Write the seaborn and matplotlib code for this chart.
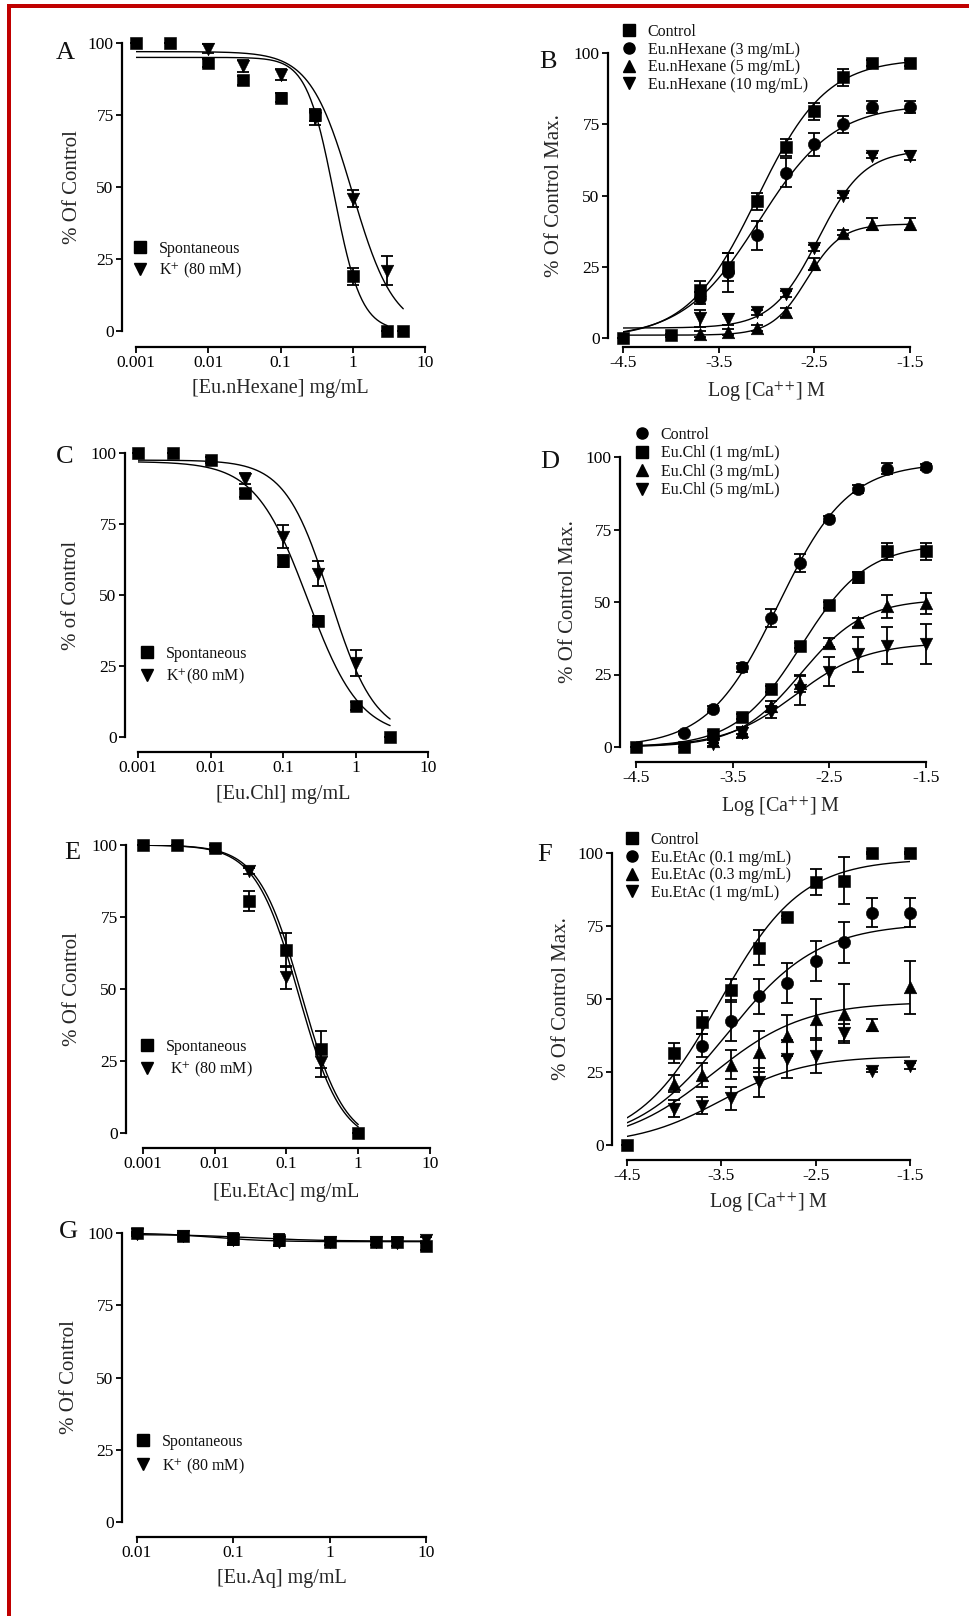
import numpy as np
import matplotlib
matplotlib.use("Agg")
import matplotlib.pyplot as plt
from matplotlib.lines import Line2D
from matplotlib.patches import Rectangle
from matplotlib.ticker import NullLocator
import seaborn as sns

W, H = 970, 1616

# ---------------- data ----------------
# log [Ca++] M doses used in B, D, F
CA_LOG = [-4.5, -4.0, -3.7, -3.4, -3.1, -2.8, -2.5, -2.2, -1.9, -1.5]

# A: Eu.nHexane, % of control
A_conc = [0.001, 0.003, 0.01, 0.03, 0.1, 0.3, 1, 3, 5]
A_spont = [100, 100, 93, 87, 81, 75, 19, 0, 0]
A_spont_err = [0, 0, 1.5, 1.5, 1.5, 2, 3, 0, 0]
A_k_conc = [0.01, 0.03, 0.1, 0.3, 1, 3]
A_k = [98, 92, 89, 74, 46, 21]
A_k_err = [1.5, 2, 2, 2.5, 3, 5]

# B: Ca++ curves with Eu.nHexane
B_ctrl = [0, 1, 17, 25, 48, 67, 79.5, 91.5, 96.5, 96.5]
B_ctrl_err = [0, 0.5, 3, 5, 3, 3, 3, 3, 1, 1]
B_3 = [14, 23, 36, 58, 68, 75, 81, 81]
B_3_err = [2, 7, 5, 5, 4, 3, 2, 2]
B_5 = [1.5, 2, 3.5, 9, 26, 37, 40, 40]
B_5_err = [1, 1, 1, 1.5, 2, 1, 2, 2]
B_10 = [7, 6.5, 9, 15.5, 31.5, 50, 64, 64]
B_10_err = [3, 2, 1, 1, 1, 1, 1, 1.5]

# C: Eu.Chl, % of control
C_conc = [0.001, 0.003, 0.01, 0.03, 0.1, 0.3, 1, 3]
C_spont = [100, 100, 97.5, 86, 62, 41, 11, 0]
C_spont_err = [0, 0, 1, 1.5, 2, 1.5, 1.5, 0]
C_k_conc = [0.03, 0.1, 0.3, 1]
C_k = [91, 70.5, 57.5, 26]
C_k_err = [2, 4, 4.5, 4.5]

# D: Ca++ curves with Eu.Chl
D_ctrl = [5, 13, 27.5, 44.5, 63.5, 78.5, 89, 96, 96.5]
D_ctrl_err = [0.5, 1, 1.5, 3, 3, 1, 1.5, 2, 1]
D_1 = [0, 0, 4.5, 10.5, 20, 35, 49, 58.5, 67.5, 67.5]
D_1_err = [0, 0, 1, 1, 1, 1, 1, 2, 3, 3]
D_3 = [2, 5.5, 14, 22, 36, 43, 48.5, 49.5]
D_3_err = [0.5, 1, 2, 3, 1.5, 1.5, 4, 3.5]
D_5 = [1, 5, 12, 19.5, 26, 32, 35, 35.5]
D_5_err = [0.5, 2, 2, 5, 5, 6, 6.5, 7]

# E: Eu.EtAc, % of control
E_conc = [0.001, 0.003, 0.01, 0.03, 0.1, 0.3, 1]
E_spont = [100, 100, 99, 80.5, 63.5, 29, 0]
E_spont_err = [0, 0, 1, 3.5, 6, 6.5, 0]
E_k_conc = [0.03, 0.1, 0.3]
E_k = [91, 54, 24.5]
E_k_err = [1, 4, 5]

# F: Ca++ curves with Eu.EtAc
F_ctrl = [0, 31.5, 42, 53, 67.5, 78, 90, 90.5, 100, 100]
F_ctrl_err = [0, 3.5, 4, 4, 6, 0.5, 4.5, 8, 0.5, 0.5]
F_01 = [34, 42.5, 51, 55.5, 63, 69.5, 79.5, 79.5]
F_01_err = [4, 7, 6, 7, 7, 7, 5, 5]
F_03 = [21, 24, 27.5, 32, 37.5, 43, 45, 41, 54]
F_03_err = [3, 4, 5, 7, 7, 7, 10, 2, 9]
F_1 = [12.5, 13.5, 16, 21.5, 29.5, 30.5, 38.5, 25.5, 27]
F_1_err = [3, 3, 4, 5, 6.5, 6, 3, 0.5, 1]

# G: Eu.Aq, % of control
G_conc = [0.01, 0.03, 0.1, 0.3, 1, 3, 5, 10]
G_spont = [100, 99, 98, 97.5, 97, 97, 97, 95.5]
G_spont_err = [0.5, 1, 2, 2, 1, 1, 1.5, 1.5]
G_k = [99.5, 99, 97.5, 97, 97, 97, 96.5, 97.5]
G_k_err = [0.5, 0.5, 1, 1, 1, 1, 1, 1]

# fitted sigmoid parameters as printed curves: top, bottom, log mid-point, Hill slope, x from, x to
A_spont_fit = [95, 0, -0.26, 2.3, 0.001, 3]
A_k_fit = [97, 0, -0.01, 1.5, 0.001, 5]
B_ctrl_fit = [98, 0, -3.10, 1.2, -4.5, -1.5]
B_3_fit = [82, 0, -3.08, 1.1, -4.5, -1.5]
B_5_fit = [40, 1, -2.58, 2.4, -4.5, -1.5]
B_10_fit = [66, 3.5, -2.46, 1.8, -4.5, -1.5]
C_spont_fit = [97, 0, -0.66, 1.2, 0.001, 3]
C_k_fit = [97.5, 0, -0.35, 1.4, 0.001, 3]
D_ctrl_fit = [98, 0, -3.03, 1.2, -4.5, -1.5]
D_1_fit = [70, 0, -2.79, 1.28, -4.5, -1.5]
D_3_fit = [51, 0, -2.79, 1.33, -4.5, -1.5]
D_5_fit = [36, 0, -2.85, 1.18, -4.5, -1.5]
E_spont_fit = [100, -4, -0.79, 1.45, 0.001, 1]
E_k_fit = [100, -4, -0.83, 1.45, 0.001, 1]
F_ctrl_fit = [98, 0, -3.52, 1.0, -4.5, -1.5]
F_01_fit = [76, 0, -3.44, 0.9, -4.5, -1.5]
F_03_fit = [49, 0, -3.59, 0.9, -4.5, -1.5]
F_1_fit = [30.5, 0, -3.50, 0.97, -4.5, -1.5]
G_spont_fit = [100, 97, -1.2, 1.5, 0.01, 10]
G_k_fit = [99.5, 97.2, -0.8, 1.2, 0.01, 10]

LOG_TICKS = [0.001, 0.01, 0.1, 1, 10]
LOG_LABELS = ["0.001", "0.01", "0.1", "1", "10"]
CA_TICKS = [-4.5, -3.5, -2.5, -1.5]
CA_LABELS = ["-4.5", "-3.5", "-2.5", "-1.5"]
Y_TICKS = [0, 25, 50, 75, 100]

# ---------------- style ----------------
sns.set_theme(style="ticks")
plt.rcParams["font.family"] = ["Liberation Serif", "DejaVu Serif"]
plt.rcParams["mathtext.fontset"] = "stix"
plt.rcParams["axes.edgecolor"] = "black"
plt.rcParams["xtick.color"] = "black"
plt.rcParams["ytick.color"] = "black"
plt.rcParams["text.color"] = "#111111"

fig = plt.figure(figsize=(W / 100, H / 100), dpi=100)

MS = {"s": 72, "o": 78, "^": 82, "v": 82}


def add_axes(x0, x1, ytop, ybot):
    return fig.add_axes([x0 / W, 1 - ybot / H, (x1 - x0) / W, (ybot - ytop) / H])


def style(ax, xticks, xlabels, off_left, off_bottom, xlabel, ylabel, xl, yl):
    xlim = ax.get_xlim()
    ax.set_xticks(xticks)
    ax.set_xticklabels(xlabels)
    ax.set_xlim(xlim)
    ax.xaxis.set_minor_locator(NullLocator())
    ax.set_ylim(0, 100)
    ax.set_yticks(Y_TICKS)
    ax.set_yticklabels([str(t) for t in Y_TICKS])
    sns.despine(ax=ax)
    ax.patch.set_visible(False)
    ax.spines["left"].set_position(("outward", off_left * 0.72))
    ax.spines["bottom"].set_position(("outward", off_bottom * 0.72))
    ax.spines["left"].set_bounds(0, 100)
    ax.spines["bottom"].set_bounds(*xlim)
    for s in ("left", "bottom"):
        ax.spines[s].set_linewidth(1.6)
    ax.tick_params(direction="out", length=4, width=1.3, labelsize=12.5, pad=2)
    ax.set_xlabel(xlabel, fontsize=14.5, va="center")
    ax.set_ylabel(ylabel, fontsize=15, va="center")
    ax.xaxis.set_label_coords(0.5, xl)
    ax.yaxis.set_label_coords(yl, 0.5)


def points(ax, x, y, err, marker):
    if err is not None:
        ax.errorbar(x, y, yerr=err, fmt="none", ecolor="black", elinewidth=1.3,
                    capsize=4.5, capthick=1.3, clip_on=False, zorder=2)
    sns.scatterplot(x=x, y=y, marker=marker, s=MS[marker], color="black",
                    edgecolor="black", linewidth=0.4, ax=ax, clip_on=False,
                    zorder=3, legend=False)


def fit_curve(ax, p, rising, log):
    top, bottom, mid, hill, lo, hi = p
    if log:
        xs = np.logspace(np.log10(lo), np.log10(hi), 300)
        lx = np.log10(xs)
    else:
        xs = np.linspace(lo, hi, 300)
        lx = xs
    if rising:
        ys = bottom + (top - bottom) / (1 + 10 ** ((mid - lx) * hill))
    else:
        ys = bottom + (top - bottom) / (1 + 10 ** ((lx - mid) * hill))
    sns.lineplot(x=xs, y=ys, color="black", linewidth=1.0, ax=ax, zorder=1)


def legend(ax, markers, labels, px, py, spacing):
    handles = [Line2D([], [], linestyle="none", marker=m, color="black",
                      markersize=8 if m in "so" else 8.5) for m in markers]
    ax.legend(handles, labels, loc="upper left",
              bbox_to_anchor=(px / W, 1 - py / H), bbox_transform=fig.transFigure,
              frameon=False, borderpad=0, borderaxespad=0, handlelength=0.8,
              handletextpad=0.75, labelspacing=spacing, fontsize=11.5)


def letter(ch, px, py):
    fig.text(px / W, 1 - py / H, ch, fontsize=19, ha="center", va="center")


K_LABEL = r"K$^{+}$ (80 mM)"
CA_XLABEL = r"Log [Ca$^{+}$$^{+}$] M"

# ---- A ----
ax = add_axes(136, 425, 43, 331)
ax.set_xscale("log")
ax.set_xlim(0.001, 10)
fit_curve(ax, A_spont_fit, False, True)
fit_curve(ax, A_k_fit, False, True)
points(ax, A_k_conc, A_k, A_k_err, "v")
points(ax, A_conc, A_spont, A_spont_err, "s")
style(ax, LOG_TICKS, LOG_LABELS, 14, 16, "[Eu.nHexane] mg/mL", "% Of Control", -0.198, -0.221)
legend(ax, ["s", "v"], ["Spontaneous", K_LABEL], 134, 241, 0.25)
letter("A", 65, 53)

# ---- B ----
ax = add_axes(623, 910, 53, 338)
ax.set_xlim(-4.5, -1.5)
for p in (B_ctrl_fit, B_3_fit, B_5_fit, B_10_fit):
    fit_curve(ax, p, True, False)
points(ax, CA_LOG[2:], B_10, B_10_err, "v")
points(ax, CA_LOG[2:], B_5, B_5_err, "^")
points(ax, CA_LOG[2:], B_3, B_3_err, "o")
points(ax, CA_LOG, B_ctrl, B_ctrl_err, "s")
style(ax, CA_TICKS, CA_LABELS, 15, 9, CA_XLABEL, "% Of Control Max.", -0.19, -0.237)
legend(ax, ["s", "o", "^", "v"],
       ["Control", "Eu.nHexane (3 mg/mL)", "Eu.nHexane (5 mg/mL)", "Eu.nHexane (10 mg/mL)"],
       623, 24, 0.1)
letter("B", 548, 62)

# ---- C ----
ax = add_axes(138, 428, 453, 737)
ax.set_xscale("log")
ax.set_xlim(0.001, 10)
fit_curve(ax, C_spont_fit, False, True)
fit_curve(ax, C_k_fit, False, True)
points(ax, C_k_conc, C_k, C_k_err, "v")
points(ax, C_conc, C_spont, C_spont_err, "s")
style(ax, LOG_TICKS, LOG_LABELS, 13, 15, "[Eu.Chl] mg/mL", "% of Control", -0.204, -0.228)
legend(ax, ["s", "v"], ["Spontaneous", r"K$^{+}$(80 mM)"], 141, 646, 0.3)
letter("C", 65, 457)

# ---- D ----
ax = add_axes(636, 926, 457, 747)
ax.set_xlim(-4.5, -1.5)
for p in (D_ctrl_fit, D_1_fit, D_3_fit, D_5_fit):
    fit_curve(ax, p, True, False)
points(ax, CA_LOG[2:], D_5, D_5_err, "v")
points(ax, CA_LOG[2:], D_3, D_3_err, "^")
points(ax, CA_LOG[1:], D_ctrl, D_ctrl_err, "o")
points(ax, CA_LOG, D_1, D_1_err, "s")
style(ax, CA_TICKS, CA_LABELS, 16, 15, CA_XLABEL, "% Of Control Max.", -0.207, -0.234)
legend(ax, ["o", "s", "^", "v"],
       ["Control", "Eu.Chl (1 mg/mL)", "Eu.Chl (3 mg/mL)", "Eu.Chl (5 mg/mL)"],
       636, 427, 0.15)
letter("D", 550, 462)

# ---- E ----
ax = add_axes(143, 430, 845, 1133)
ax.set_xscale("log")
ax.set_xlim(0.001, 10)
fit_curve(ax, E_spont_fit, False, True)
fit_curve(ax, E_k_fit, False, True)
points(ax, E_k_conc, E_k, E_k_err, "v")
points(ax, E_conc, E_spont, E_spont_err, "s")
style(ax, LOG_TICKS, LOG_LABELS, 17, 15, "[Eu.EtAc] mg/mL", "% Of Control", -0.205, -0.247)
legend(ax, ["s", "v"], ["Spontaneous", " " + K_LABEL], 141, 1039, 0.3)
letter("E", 72, 853)

# ---- F ----
ax = add_axes(627, 910, 853, 1145)
ax.set_xlim(-4.5, -1.5)
for p in (F_ctrl_fit, F_01_fit, F_03_fit, F_1_fit):
    fit_curve(ax, p, True, False)
points(ax, CA_LOG[1:], F_1, F_1_err, "v")
points(ax, CA_LOG[1:], F_03, F_03_err, "^")
points(ax, CA_LOG[2:], F_01, F_01_err, "o")
points(ax, CA_LOG, F_ctrl, F_ctrl_err, "s")
style(ax, CA_TICKS, CA_LABELS, 15, 15, CA_XLABEL, "% Of Control Max.", -0.199, -0.23)
legend(ax, ["s", "o", "^", "v"],
       ["Control", "Eu.EtAc (0.1 mg/mL)", "Eu.EtAc (0.3 mg/mL)", "Eu.EtAc (1 mg/mL)"],
       626, 832, 0.1)
letter("F", 545, 855)

# ---- G ----
ax = add_axes(137, 426, 1233, 1522)
ax.set_xscale("log")
ax.set_xlim(0.01, 10)
fit_curve(ax, G_spont_fit, False, True)
fit_curve(ax, G_k_fit, False, True)
points(ax, G_conc, G_k, G_k_err, "v")
points(ax, G_conc, G_spont, G_spont_err, "s")
style(ax, LOG_TICKS[1:], LOG_LABELS[1:], 15, 15, "[Eu.Aq] mg/mL", "% Of Control", -0.194, -0.232)
legend(ax, ["s", "v"], ["Spontaneous", K_LABEL], 137, 1434, 0.4)
letter("G", 68, 1232)

# red frame on top and left edges
fig.add_artist(Rectangle((7 / W, 1 - 7.5 / H), 1 - 7 / W, 3.5 / H,
                         transform=fig.transFigure, color="#c00000", lw=0))
fig.add_artist(Rectangle((7 / W, 0), 4 / W, 1 - 4 / H,
                         transform=fig.transFigure, color="#c00000", lw=0))

fig.savefig("out.png", dpi=100, facecolor="white")
